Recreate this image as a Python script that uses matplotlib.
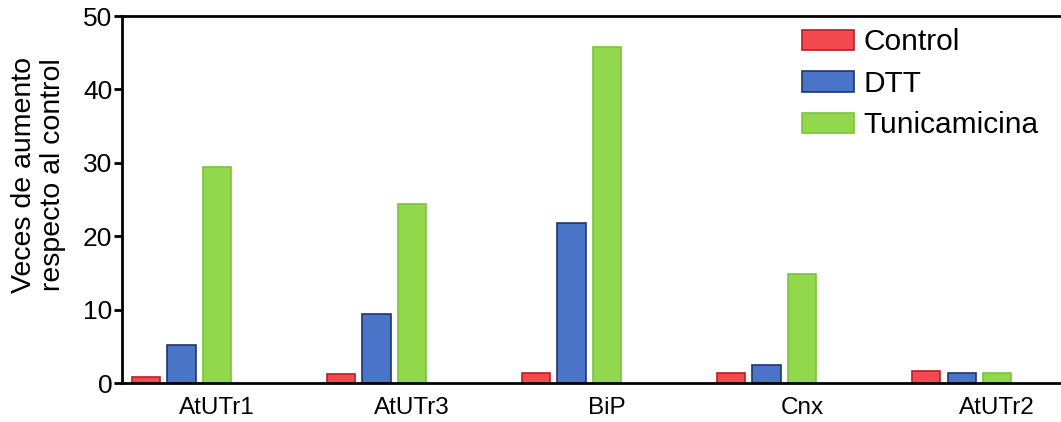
import matplotlib
matplotlib.use("Agg")
import matplotlib.pyplot as plt
import numpy as np

genes = ["AtUTr1", "AtUTr3", "BiP", "Cnx", "AtUTr2"]
control = [0.8, 1.2, 1.4, 1.4, 1.6]
dtt = [5.2, 9.4, 21.8, 2.5, 1.3]
tunicamicina = [29.4, 24.4, 45.8, 14.9, 1.4]

plt.rcParams["font.family"] = ["Liberation Sans", "DejaVu Sans"]

fig = plt.figure(figsize=(10.61, 4.22), dpi=100)
ax = fig.add_axes([0.115, 0.0924, 0.885, 0.8696])

x = np.arange(len(genes))
pitch = 0.182
width = 0.144
ax.bar(x - pitch, control, width, color="#f24a4e", edgecolor="#b42024", linewidth=1.2, label="Control")
ax.bar(x, dtt, width, color="#4a74c8", edgecolor="#1e3670", linewidth=1.2, label="DTT")
ax.bar(x + pitch, tunicamicina, width, color="#92d84c", edgecolor="#7cc23c", linewidth=1.2, label="Tunicamicina")

ax.set_xlim(-0.305, 4.51)
ax.set_ylim(0, 50)
ax.set_yticks([0, 10, 20, 30, 40, 50])
ax.set_xticks(x + pitch)
ax.set_xticklabels(genes)
ax.tick_params(axis="x", length=0, labelsize=17.5, pad=10)
ax.tick_params(axis="y", length=6, width=2, labelsize=19, pad=1)
ax.set_ylabel("Veces de aumento\nrespecto al control", fontsize=20.5, linespacing=1.12)
ax.yaxis.set_label_coords(-0.06, 0.567)

for side in ["left", "top", "bottom"]:
    ax.spines[side].set_linewidth(2)
ax.spines["right"].set_visible(False)

ax.legend(loc="upper left", bbox_to_anchor=(0.742, 0.968), bbox_transform=fig.transFigure,
          frameon=False, fontsize=21.5, handlelength=1.75, handleheight=0.68,
          handletextpad=0.3, labelspacing=0.45, borderpad=0)

fig.savefig("out.png", dpi=100)
